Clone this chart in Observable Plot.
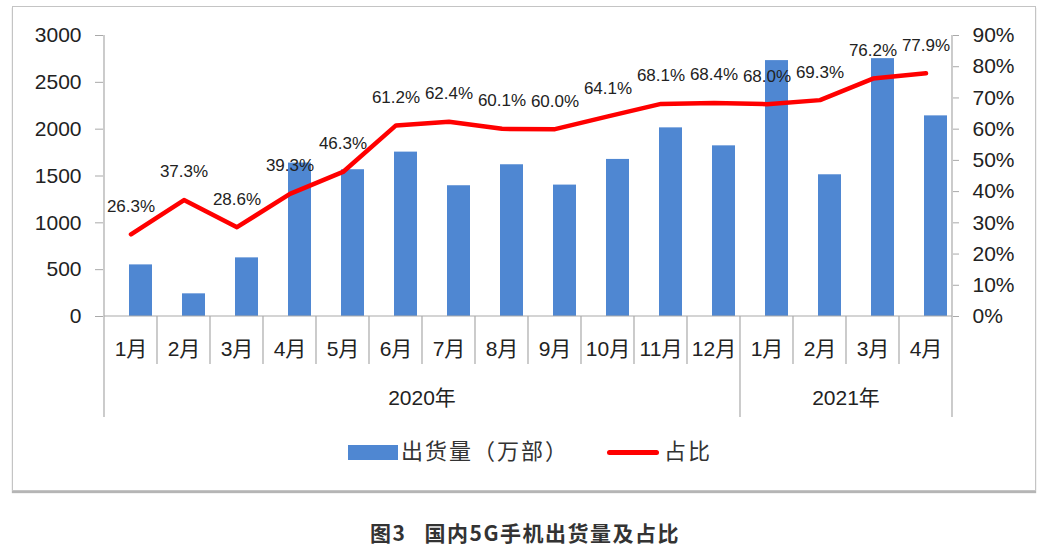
<!DOCTYPE html>
<html><head><meta charset="utf-8">
<script src="https://cdn.jsdelivr.net/npm/d3@7"></script>
<script src="https://cdn.jsdelivr.net/npm/@observablehq/plot@0.6"></script>
<style>
body{margin:0;background:#fff;font-family:"Liberation Sans","Noto Sans CJK SC",sans-serif;color:#222;}
#wrap{position:relative;width:1050px;height:552px;overflow:hidden;background:#fff}
#box{position:absolute;left:12px;top:6px;width:1022px;height:483px;border:1px solid #c4c4c4;box-shadow:0 2px 1px #b5b5b5}
#chart{position:absolute;left:0;top:0}
.leg{position:absolute;font-size:22px;line-height:22px;color:#333;white-space:nowrap;letter-spacing:2px}
#caption{position:absolute;left:0;width:1050px;top:518px;text-align:center;font-family:"Noto Sans CJK SC",sans-serif;font-weight:bold;font-size:21px;line-height:28px;color:#333;white-space:pre;letter-spacing:1.5px;word-spacing:12px}
</style></head>
<body><div id="wrap">
<div id="box"></div>
<div id="chart"></div>
<div id="legend"></div>
<div id="caption"></div>
</div>
<script>
const categories = ["2020-01","2020-02","2020-03","2020-04","2020-05","2020-06","2020-07","2020-08","2020-09","2020-10","2020-11","2020-12","2021-01","2021-02","2021-03","2021-04"];
const monthLabels = ["1月","2月","3月","4月","5月","6月","7月","8月","9月","10月","11月","12月","1月","2月","3月","4月"];
const yearLabels = ["2020年","2020年","2020年","2020年","2020年","2020年","2020年","2020年","2020年","2020年","2020年","2020年","2021年","2021年","2021年","2021年"];
const shipments = [551, 242, 626, 1638, 1567, 1755, 1396, 1620, 1403, 1677, 2014, 1822, 2732, 1513, 2753, 2142];
const share = [26.3, 37.3, 28.6, 39.3, 46.3, 61.2, 62.4, 60.1, 60.0, 64.1, 68.1, 68.4, 68.0, 69.3, 76.2, 77.9];
const leftTicks = [0, 500, 1000, 1500, 2000, 2500, 3000];
const rightTicks = [0, 10, 20, 30, 40, 50, 60, 70, 80, 90];
const seriesNames = ["出货量（万部）", "占比"];
const captionText = "图3 国内5G手机出货量及占比";

const leftMax = 3000, rightMax = 90;
const toLeft = p => p / rightMax * leftMax;
const monthOf = Object.fromEntries(categories.map((c, i) => [c, monthLabels[i]]));
const data = categories.map((c, i) => ({cat: c, month: monthLabels[i], year: yearLabels[i], ship: shipments[i], share: share[i]}));

const BLUE = "#4f87d2", RED = "#ff0000", GRID = "#a9a9a9";
const FONT = "'Liberation Sans','Noto Sans CJK SC',sans-serif";

function frameMark(index, scales) {
  const x = scales.x, y = scales.y;
  const bw = typeof x.bandwidth === "function" ? x.bandwidth() : x.bandwidth;
  const g = d3.create("svg:g");
  const lines = g.append("g").attr("stroke", GRID).attr("stroke-width", 1.2).attr("fill", "none");
  const y0 = y(0), yTop = y(leftMax);
  const xL = x(categories[0]), xR = x(categories[categories.length - 1]) + bw;
  const shortB = y0 + 48, longB = y0 + 101;
  lines.append("line").attr("x1", xL).attr("x2", xL).attr("y1", yTop).attr("y2", longB);
  lines.append("line").attr("x1", xR).attr("x2", xR).attr("y1", yTop).attr("y2", longB);
  lines.append("line").attr("x1", xL).attr("x2", xR).attr("y1", y0).attr("y2", y0);
  for (let i = 1; i < categories.length; i++) {
    const xx = x(categories[i]);
    const isYear = yearLabels[i] !== yearLabels[i - 1];
    lines.append("line").attr("x1", xx).attr("x2", xx).attr("y1", y0).attr("y2", isYear ? longB : shortB);
  }
  const years = [...new Set(yearLabels)];
  for (const yr of years) {
    const idx = yearLabels.map((v, i) => v === yr ? i : -1).filter(i => i >= 0);
    const a = x(categories[idx[0]]), b = x(categories[idx[idx.length - 1]]) + bw;
    g.append("text").attr("x", (a + b) / 2).attr("y", y0 + 82).attr("dy", "0.35em")
      .attr("text-anchor", "middle").attr("font-size", 21).attr("fill", "#222").attr("font-family", FONT).text(yr);
  }
  return g.node();
}

const chart = Plot.plot({
  width: 1050, height: 430,
  marginLeft: 103, marginRight: 98, marginTop: 35, marginBottom: 114,
  x: {type: "band", domain: categories, padding: 0},
  y: {domain: [0, leftMax]},
  style: {fontFamily: FONT, background: "transparent", color: "#222"},
  marks: [
    Plot.barY(data, {x: "cat", y: "ship", fill: BLUE, insetLeft: 25, insetRight: 5}),
    frameMark,
    Plot.axisY({anchor: "left", ticks: leftTicks, tickSize: 8, tickPadding: 14, fontSize: 21, label: null, stroke: GRID, fill: "#222", tickFormat: d => String(d)}),
    Plot.axisY({anchor: "right", ticks: rightTicks.map(toLeft), tickSize: 6, tickPadding: 14, fontSize: 21, label: null, stroke: GRID, fill: "#222", tickFormat: d => Math.round(d / leftMax * rightMax) + "%"}),
    Plot.axisX({anchor: "bottom", tickSize: 0, tickPadding: 25, fontSize: 21, label: null, fill: "#222", tickFormat: d => monthOf[d]}),
    Plot.lineY(data, {x: "cat", y: d => toLeft(d.share), stroke: RED, strokeWidth: 4.5, strokeLinejoin: "round", strokeLinecap: "round"}),
    Plot.text(data, {x: "cat", y: d => toLeft(d.share), text: d => d.share.toFixed(1) + "%", dy: -28, fontSize: 17, fill: "#222"})
  ]
});
document.getElementById("chart").appendChild(chart);

const legend = document.getElementById("legend");
legend.innerHTML =
  `<div style="position:absolute;left:348px;top:445px;width:50px;height:15px;background:${BLUE}"></div>` +
  `<div class="leg" style="left:401px;top:441px">${seriesNames[0]}</div>` +
  `<div style="position:absolute;left:607px;top:450px;width:52px;height:5px;border-radius:3px;background:${RED}"></div>` +
  `<div class="leg" style="left:664px;top:441px">${seriesNames[1]}</div>`;
document.getElementById("caption").textContent = captionText;
</script>
</body></html>
